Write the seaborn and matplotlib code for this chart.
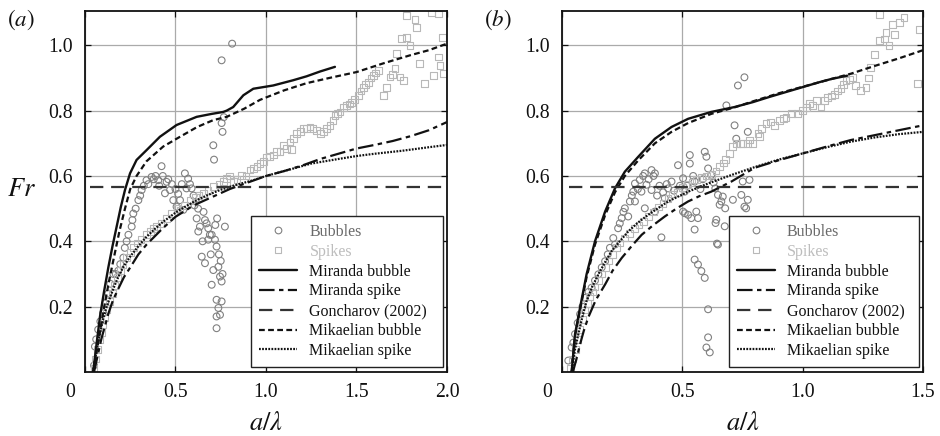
import matplotlib
matplotlib.use("Agg")
import matplotlib.pyplot as plt
import seaborn as sns
import pandas as pd
from matplotlib.lines import Line2D

# ---------------------------------------------------------------- data
# Froude number Fr against dimensionless amplitude a/lambda

# (a) simulation points
bubbles_a = [
    (0.05, 0.02), (0.055, 0.078), (0.062, 0.10), (0.073, 0.13), (0.085, 0.155),
    (0.10, 0.18), (0.112, 0.21), (0.129, 0.24), (0.14, 0.27), (0.157, 0.30),
    (0.17, 0.30), (0.184, 0.31), (0.195, 0.33), (0.212, 0.35), (0.22, 0.38),
    (0.23, 0.40), (0.24, 0.42), (0.258, 0.445), (0.262, 0.465), (0.267, 0.485),
    (0.28, 0.50), (0.295, 0.526), (0.305, 0.54), (0.313, 0.557), (0.325, 0.57),
    (0.34, 0.587), (0.35, 0.575), (0.368, 0.597), (0.38, 0.59), (0.39, 0.60),
    (0.405, 0.587), (0.41, 0.57), (0.423, 0.63), (0.43, 0.60), (0.442, 0.547),
    (0.451, 0.582), (0.46, 0.59), (0.47, 0.557), (0.48, 0.575), (0.488, 0.526),
    (0.50, 0.56), (0.506, 0.506), (0.515, 0.545), (0.525, 0.526), (0.535, 0.575),
    (0.543, 0.496), (0.552, 0.608), (0.561, 0.562), (0.57, 0.592), (0.58, 0.575),
    (0.589, 0.562), (0.60, 0.54), (0.605, 0.51), (0.617, 0.47), (0.626, 0.43),
    (0.635, 0.445), (0.645, 0.353), (0.655, 0.49), (0.663, 0.465), (0.663, 0.333),
    (0.672, 0.455), (0.681, 0.44), (0.681, 0.405), (0.69, 0.42), (0.70, 0.42),
    (0.70, 0.267), (0.709, 0.312), (0.709, 0.694), (0.713, 0.65), (0.718, 0.405),
    (0.727, 0.384), (0.727, 0.221), (0.727, 0.17), (0.727, 0.134), (0.737, 0.322),
    (0.737, 0.196), (0.746, 0.292), (0.746, 0.175), (0.755, 0.277), (0.755, 0.216),
    (0.755, 0.762), (0.76, 0.735), (0.767, 0.78), (0.773, 0.445), (0.755, 0.954),
    (0.813, 1.005), (0.74, 0.36), (0.75, 0.34), (0.76, 0.30), (0.72, 0.45),
    (0.73, 0.47), (0.695, 0.36), (0.65, 0.40), (0.625, 0.50),
]
spikes_a = [
    (0.05, 0.01), (0.06, 0.04), (0.07, 0.07), (0.08, 0.10), (0.09, 0.12),
    (0.10, 0.145), (0.11, 0.165), (0.12, 0.19), (0.135, 0.215), (0.15, 0.24),
    (0.165, 0.265), (0.18, 0.29), (0.195, 0.31), (0.21, 0.33), (0.23, 0.35),
    (0.25, 0.365), (0.27, 0.38), (0.29, 0.395), (0.31, 0.405), (0.34, 0.42),
    (0.36, 0.43), (0.38, 0.44), (0.396, 0.445), (0.42, 0.455), (0.451, 0.47),
    (0.48, 0.485), (0.51, 0.50), (0.525, 0.496), (0.55, 0.51), (0.58, 0.526),
    (0.61, 0.535), (0.63, 0.54), (0.653, 0.547), (0.68, 0.555), (0.709, 0.567),
    (0.74, 0.575), (0.764, 0.582), (0.783, 0.592), (0.80, 0.60), (0.82, 0.582),
    (0.84, 0.59), (0.866, 0.602), (0.89, 0.60), (0.912, 0.618), (0.93, 0.623),
    (0.95, 0.63), (0.967, 0.638), (0.985, 0.645), (1.004, 0.658), (1.02, 0.66),
    (1.04, 0.664), (1.059, 0.674), (1.077, 0.674), (1.096, 0.694), (1.114, 0.684),
    (1.133, 0.704), (1.142, 0.682), (1.15, 0.715), (1.17, 0.73), (1.19, 0.735),
    (1.206, 0.745), (1.224, 0.745), (1.243, 0.75), (1.26, 0.745), (1.28, 0.74),
    (1.30, 0.73), (1.317, 0.735), (1.335, 0.745), (1.354, 0.755), (1.37, 0.77),
    (1.381, 0.786), (1.395, 0.79), (1.409, 0.796), (1.43, 0.81), (1.446, 0.816),
    (1.46, 0.82), (1.473, 0.826), (1.49, 0.835), (1.51, 0.847), (1.525, 0.86),
    (1.538, 0.872), (1.55, 0.88), (1.565, 0.887), (1.58, 0.90), (1.593, 0.908),
    (1.605, 0.915), (1.62, 0.923), (1.648, 0.847), (1.667, 0.872), (1.685, 0.903),
    (1.70, 0.91), (1.713, 0.928), (1.722, 0.974), (1.74, 0.903), (1.75, 1.02),
    (1.758, 0.893), (1.777, 1.025), (1.777, 1.09), (1.796, 1.0), (1.823, 1.08),
    (1.833, 1.055), (1.85, 0.944), (1.878, 0.882), (1.915, 1.10), (1.924, 0.908),
    (1.952, 1.096), (1.952, 0.964), (1.961, 0.938), (1.977, 1.025), (1.98, 0.913),
]

# (a) model curves
miranda_bubble_a_x = [0.045, 0.065, 0.083, 0.105, 0.129, 0.152, 0.175, 0.198, 0.221,
                      0.249, 0.285, 0.34, 0.414, 0.506, 0.617, 0.70, 0.764, 0.783,
                      0.819, 0.875, 0.93, 1.04, 1.15, 1.224, 1.30, 1.381]
miranda_bubble_a_y = [0.0, 0.09, 0.17, 0.245, 0.32, 0.385, 0.445, 0.505, 0.557,
                      0.608, 0.649, 0.679, 0.72, 0.756, 0.781, 0.79, 0.796, 0.80,
                      0.811, 0.847, 0.867, 0.877, 0.893, 0.905, 0.92, 0.934]
miranda_spike_a_x = [0.05, 0.07, 0.09, 0.11, 0.13, 0.155, 0.18, 0.215, 0.25, 0.295,
                     0.34, 0.385, 0.43, 0.5, 0.6, 0.7, 0.8, 0.9, 1.0, 1.1, 1.2, 1.3,
                     1.4, 1.5, 1.6, 1.7, 1.8, 1.9, 2.0]
miranda_spike_a_y = [0.0, 0.05, 0.10, 0.14, 0.18, 0.22, 0.25, 0.29, 0.32, 0.36,
                     0.39, 0.415, 0.44, 0.475, 0.51, 0.535, 0.56, 0.58, 0.60, 0.615,
                     0.632, 0.652, 0.668, 0.684, 0.695, 0.707, 0.722, 0.74, 0.765]
mikaelian_bubble_a_x = [0.045, 0.07, 0.1, 0.13, 0.156, 0.19, 0.221, 0.25, 0.285, 0.34,
                        0.432, 0.525, 0.62, 0.709, 0.783, 0.88, 0.967, 1.1, 1.224,
                        1.35, 1.5, 1.65, 1.8, 1.9, 2.0]
mikaelian_bubble_a_y = [0.0, 0.08, 0.18, 0.27, 0.34, 0.43, 0.50, 0.56, 0.60, 0.645,
                        0.69, 0.72, 0.75, 0.771, 0.781, 0.806, 0.833, 0.862, 0.884,
                        0.90, 0.918, 0.945, 0.97, 0.985, 1.005]
mikaelian_spike_a_x = [0.046, 0.065, 0.083, 0.10, 0.12, 0.15, 0.175, 0.21, 0.249,
                       0.295, 0.34, 0.39, 0.432, 0.506, 0.56, 0.617, 0.68, 0.746,
                       0.83, 0.93, 1.0, 1.1, 1.25, 1.4, 1.5, 1.6, 1.75, 1.9, 2.0]
mikaelian_spike_a_y = [0.0, 0.07, 0.12, 0.16, 0.20, 0.245, 0.28, 0.32, 0.353,
                       0.385, 0.414, 0.44, 0.46, 0.49, 0.508, 0.526, 0.542, 0.557,
                       0.572, 0.587, 0.60, 0.615, 0.638, 0.652, 0.661, 0.668, 0.677,
                       0.688, 0.695]
goncharov_a_x = [0.03, 1.98]

# (b) simulation points
bubbles_b = [
    (0.026, 0.035), (0.04, 0.075), (0.047, 0.09), (0.054, 0.116), (0.065, 0.15),
    (0.075, 0.177), (0.085, 0.20), (0.095, 0.227), (0.11, 0.245), (0.123, 0.258),
    (0.137, 0.28), (0.151, 0.299), (0.165, 0.32), (0.179, 0.339), (0.19, 0.36),
    (0.199, 0.38), (0.213, 0.41), (0.22, 0.39), (0.233, 0.44), (0.24, 0.455),
    (0.248, 0.471), (0.255, 0.49), (0.261, 0.501), (0.275, 0.476), (0.282, 0.522),
    (0.29, 0.54), (0.296, 0.552), (0.303, 0.577), (0.303, 0.522), (0.315, 0.56),
    (0.323, 0.588), (0.33, 0.552), (0.337, 0.60), (0.344, 0.608), (0.344, 0.501),
    (0.351, 0.573), (0.36, 0.59), (0.372, 0.618), (0.372, 0.557), (0.38, 0.60),
    (0.386, 0.608), (0.386, 0.491), (0.395, 0.54), (0.405, 0.57), (0.413, 0.412),
    (0.42, 0.55), (0.427, 0.532), (0.435, 0.575), (0.441, 0.562), (0.455, 0.583),
    (0.465, 0.555), (0.482, 0.633), (0.49, 0.57), (0.503, 0.593), (0.503, 0.491),
    (0.51, 0.552), (0.51, 0.486), (0.52, 0.57), (0.524, 0.481), (0.531, 0.664),
    (0.531, 0.638), (0.537, 0.471), (0.545, 0.60), (0.551, 0.583), (0.551, 0.436),
    (0.551, 0.344), (0.558, 0.491), (0.565, 0.471), (0.565, 0.329), (0.575, 0.56),
    (0.579, 0.309), (0.585, 0.59), (0.593, 0.674), (0.593, 0.288), (0.60, 0.659),
    (0.60, 0.075), (0.607, 0.623), (0.607, 0.192), (0.607, 0.106), (0.614, 0.06),
    (0.62, 0.603), (0.63, 0.58), (0.637, 0.562), (0.638, 0.456), (0.641, 0.466),
    (0.644, 0.393), (0.648, 0.542), (0.648, 0.39), (0.655, 0.512), (0.662, 0.522),
    (0.668, 0.537), (0.676, 0.446), (0.678, 0.501), (0.683, 0.816), (0.71, 0.527),
    (0.717, 0.755), (0.724, 0.714), (0.731, 0.877), (0.745, 0.542), (0.751, 0.583),
    (0.758, 0.902), (0.758, 0.506), (0.765, 0.501), (0.772, 0.735), (0.772, 0.527),
    (0.779, 0.588),
]
spikes_b = [
    (0.035, 0.01), (0.045, 0.04), (0.055, 0.07), (0.065, 0.10), (0.075, 0.13),
    (0.085, 0.16), (0.095, 0.19), (0.105, 0.21), (0.115, 0.23), (0.125, 0.245),
    (0.135, 0.26), (0.15, 0.28), (0.165, 0.30), (0.18, 0.32), (0.195, 0.34),
    (0.21, 0.36), (0.225, 0.38), (0.24, 0.395), (0.26, 0.41), (0.28, 0.425),
    (0.30, 0.44), (0.32, 0.45), (0.337, 0.46), (0.36, 0.475), (0.38, 0.49),
    (0.40, 0.505), (0.42, 0.515), (0.44, 0.53), (0.46, 0.545), (0.48, 0.55),
    (0.50, 0.565), (0.52, 0.575), (0.54, 0.58), (0.56, 0.59), (0.58, 0.595),
    (0.60, 0.60), (0.62, 0.605), (0.64, 0.615), (0.655, 0.628), (0.67, 0.64),
    (0.68, 0.65), (0.696, 0.669), (0.71, 0.69), (0.724, 0.699), (0.74, 0.70),
    (0.751, 0.699), (0.77, 0.70), (0.78, 0.71), (0.793, 0.699), (0.814, 0.73),
    (0.82, 0.72), (0.83, 0.745), (0.848, 0.76), (0.865, 0.765), (0.883, 0.755),
    (0.903, 0.77), (0.92, 0.775), (0.931, 0.78), (0.952, 0.79), (0.979, 0.79),
    (1.0, 0.801), (1.015, 0.81), (1.028, 0.821), (1.04, 0.815), (1.056, 0.831),
    (1.076, 0.811), (1.09, 0.83), (1.104, 0.841), (1.12, 0.845), (1.131, 0.85),
    (1.145, 0.86), (1.159, 0.867), (1.17, 0.88), (1.18, 0.892), (1.195, 0.895),
    (1.207, 0.902), (1.221, 0.877), (1.242, 0.862), (1.263, 0.872), (1.275, 0.90),
    (1.283, 0.933), (1.297, 0.973), (1.318, 1.014), (1.318, 1.095), (1.339, 1.019),
    (1.346, 1.039), (1.359, 0.999), (1.373, 1.064), (1.38, 1.034), (1.401, 1.07),
    (1.421, 1.085), (1.477, 0.882), (1.484, 1.049),
]

# (b) model curves
miranda_bubble_b_x = [0.04, 0.054, 0.075, 0.102, 0.137, 0.179, 0.22, 0.261, 0.317,
                      0.386, 0.455, 0.524, 0.62, 0.717, 0.793, 0.862, 0.931, 1.0,
                      1.069, 1.12, 1.185]
miranda_bubble_b_y = [0.0, 0.116, 0.197, 0.299, 0.40, 0.491, 0.562, 0.613, 0.659,
                      0.714, 0.75, 0.775, 0.796, 0.811, 0.826, 0.842, 0.857, 0.872,
                      0.887, 0.897, 0.907]
miranda_spike_b_x = [0.045, 0.06, 0.075, 0.09, 0.109, 0.14, 0.179, 0.21, 0.248, 0.29,
                     0.331, 0.38, 0.427, 0.475, 0.524, 0.57, 0.62, 0.704, 0.8, 0.9,
                     1.0, 1.1, 1.2, 1.3, 1.4, 1.5]
miranda_spike_b_y = [0.0, 0.04, 0.085, 0.125, 0.167, 0.22, 0.268, 0.31, 0.349, 0.386,
                     0.42, 0.45, 0.476, 0.50, 0.522, 0.538, 0.552, 0.583, 0.625, 0.648,
                     0.669, 0.69, 0.71, 0.725, 0.74, 0.755]
mikaelian_bubble_b_x = [0.04, 0.054, 0.075, 0.102, 0.137, 0.179, 0.22, 0.261, 0.317,
                        0.386, 0.455, 0.524, 0.62, 0.717, 0.8, 0.9, 1.0, 1.1, 1.2,
                        1.3, 1.4, 1.5]
mikaelian_bubble_b_y = [0.0, 0.11, 0.19, 0.29, 0.39, 0.48, 0.55, 0.60, 0.648, 0.70,
                        0.735, 0.762, 0.79, 0.81, 0.83, 0.853, 0.873, 0.893, 0.913,
                        0.937, 0.96, 0.985]
mikaelian_spike_b_x = [0.04, 0.054, 0.068, 0.085, 0.102, 0.125, 0.151, 0.178, 0.206,
                       0.24, 0.275, 0.315, 0.358, 0.4, 0.441, 0.524, 0.607, 0.704,
                       0.8, 0.9, 1.0, 1.1, 1.2, 1.3, 1.4, 1.5]
mikaelian_spike_b_y = [0.0, 0.07, 0.116, 0.17, 0.217, 0.26, 0.299, 0.335, 0.37, 0.40,
                       0.43, 0.457, 0.481, 0.502, 0.522, 0.552, 0.577, 0.603, 0.627,
                       0.65, 0.669, 0.688, 0.705, 0.718, 0.728, 0.735]
goncharov_b_x = [0.03, 1.48]

goncharov_fr = 0.565

x_ticks_a = [0, 0.5, 1.0, 1.5, 2.0]
x_ticks_b = [0, 0.5, 1.0, 1.5]
y_ticks = [0.2, 0.4, 0.6, 0.8, 1.0]

legend_labels = ["Bubbles", "Spikes", "Miranda bubble", "Miranda spike",
                 "Goncharov (2002)", "Mikaelian bubble", "Mikaelian spike"]

# ---------------------------------------------------------------- style
sns.set_theme(style="white")
plt.rcParams.update({
    "font.family": ["Liberation Serif", "DejaVu Serif"],
    "mathtext.fontset": "stix",
    "axes.edgecolor": "#111111",
    "axes.linewidth": 1.3,
})

BUB_C = "#808080"
SPK_C = "#b8b8b8"
LINE_C = "#111111"
GON_C = "#333333"

STYLE_MIR_B = dict(color=LINE_C, lw=1.7, linestyle="-")
STYLE_MIR_S = dict(color=LINE_C, lw=1.6, linestyle=(0, (7, 2, 2, 2)))
STYLE_GON = dict(color=GON_C, lw=1.6, linestyle=(0, (6, 3.5)))
STYLE_MIK_B = dict(color=LINE_C, lw=1.6, linestyle=(0, (2.6, 1.5)))
STYLE_MIK_S = dict(color=LINE_C, lw=1.6, linestyle=(0, (0.8, 0.6)))

fig = plt.figure(figsize=(9.4, 4.36), dpi=100)
ax_a = fig.add_axes([0.0904, 0.1468, 0.3851, 0.828])
ax_b = fig.add_axes([0.5979, 0.1468, 0.384, 0.828])


def scatter(ax, pts, marker, color):
    df = pd.DataFrame(pts, columns=["x", "y"])
    sns.scatterplot(data=df, x="x", y="y", ax=ax, marker=marker, s=24,
                    facecolors="none", edgecolor=color, linewidth=0.8,
                    zorder=2, legend=False)


def curve(ax, xs, ys, style):
    df = pd.DataFrame({"x": xs, "y": ys})
    sns.lineplot(data=df, x="x", y="y", ax=ax, estimator=None, sort=False,
                 zorder=3, **style)


def panel(ax, bubbles, spikes, curves, gon_x, xmax, xticks, tag, leg_left):
    scatter(ax, bubbles, "o", BUB_C)
    scatter(ax, spikes, "s", SPK_C)
    for xs, ys, st in curves:
        curve(ax, xs, ys, st)
    curve(ax, gon_x, [goncharov_fr] * len(gon_x), STYLE_GON)

    ax.set_xlim(0, xmax)
    ax.set_ylim(0, 1.105)
    ax.set_xticks(xticks)
    ax.set_xticklabels([""] + [f"{t:.1f}" for t in xticks[1:]])
    ax.set_yticks(y_ticks)
    ax.set_yticklabels([f"{t:.1f}" for t in y_ticks])
    ax.grid(True, color="#aaaaaa", lw=0.9)
    ax.set_axisbelow(True)
    ax.tick_params(direction="in", length=4, width=0.9, top=True, right=True,
                   bottom=True, left=True, labelsize=14.2, colors="#111111")
    ax.tick_params(axis="x", pad=8)
    ax.tick_params(axis="y", pad=9)
    ax.set_xlabel("$a/\\lambda$", fontsize=19, labelpad=7, color="#111111")
    ax.set_ylabel("")
    # corner origin label
    ax.annotate("0", xy=(0, 0), xycoords="axes fraction", xytext=(-11, -8),
                textcoords="offset points", ha="center", va="top",
                fontsize=14.2, color="#111111")
    ax.text(-0.215, 0.975, tag, transform=ax.transAxes, fontsize=16.5,
            ha="left", va="center", color="#111111")

    handles = [
        Line2D([], [], ls="none", marker="o", mfc="none", mec=BUB_C, ms=4.8, mew=0.8),
        Line2D([], [], ls="none", marker="s", mfc="none", mec=SPK_C, ms=4.8, mew=0.8),
        Line2D([], [], **STYLE_MIR_B),
        Line2D([], [], **STYLE_MIR_S),
        Line2D([], [], **STYLE_GON),
        Line2D([], [], **STYLE_MIK_B),
        Line2D([], [], **STYLE_MIK_S),
    ]
    leg = ax.legend(handles, legend_labels, loc="lower left",
                    bbox_to_anchor=(leg_left, 0.014, 0.989 - leg_left, 0.42),
                    mode="expand", frameon=True, fancybox=False,
                    edgecolor="#222222", framealpha=1, fontsize=11.5,
                    handlelength=2.4, handletextpad=0.75, labelspacing=0.24,
                    borderpad=0.5, borderaxespad=0)
    leg.get_frame().set_linewidth(1.0)
    leg.set_zorder(5)
    texts = leg.get_texts()
    texts[0].set_color("#6a6a6a")
    texts[1].set_color("#bdbdbd")
    for t in texts[2:]:
        t.set_color("#111111")


panel(ax_a, bubbles_a, spikes_a,
      [(miranda_bubble_a_x, miranda_bubble_a_y, STYLE_MIR_B),
       (miranda_spike_a_x, miranda_spike_a_y, STYLE_MIR_S),
       (mikaelian_bubble_a_x, mikaelian_bubble_a_y, STYLE_MIK_B),
       (mikaelian_spike_a_x, mikaelian_spike_a_y, STYLE_MIK_S)],
      goncharov_a_x, 2.0, x_ticks_a, "$(a)$", 0.459)
panel(ax_b, bubbles_b, spikes_b,
      [(miranda_bubble_b_x, miranda_bubble_b_y, STYLE_MIR_B),
       (miranda_spike_b_x, miranda_spike_b_y, STYLE_MIR_S),
       (mikaelian_bubble_b_x, mikaelian_bubble_b_y, STYLE_MIK_B),
       (mikaelian_spike_b_x, mikaelian_spike_b_y, STYLE_MIK_S)],
      goncharov_b_x, 1.5, x_ticks_b, "$(b)$", 0.462)

fig.text(21 / 940, 1 - 190 / 436, "$Fr$", fontsize=19, ha="center", va="center",
         color="#111111")

fig.savefig("out.png", dpi=100, facecolor="white")
